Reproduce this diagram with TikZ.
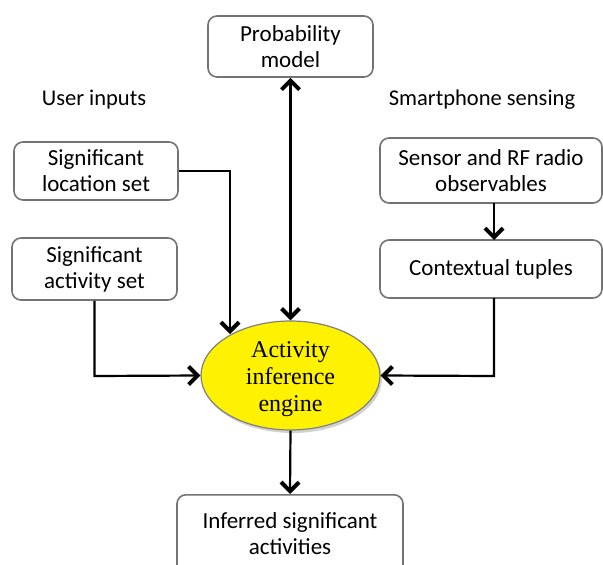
\documentclass[tikz,border=0pt]{standalone}
\usepackage{fontspec}
\setmainfont{Carlito}
\newfontfamily\timesfont{Liberation Serif}
\usetikzlibrary{arrows.meta,shapes.geometric,shadows}
\begin{document}
\begin{tikzpicture}[x=1pt,y=-1pt,
  box/.style={draw=black!55,line width=1.6pt,rounded corners=9pt,fill=white,inner sep=0pt,
    font=\fontsize{23}{26}\selectfont,align=center},
  lbl/.style={font=\fontsize{22.5}{26}\selectfont,inner sep=0pt},
  tip/.tip={Straight Barb[length=9pt,width=18pt,line width=4pt]},
  conn/.style={line width=2.2pt,-tip},
  dconn/.style={line width=2.2pt,tip-tip}]
\clip (0,0) rectangle (603,565);
\fill[white] (0,0) rectangle (603,565);
% boxes
\node[box,minimum width=165pt,minimum height=61pt] (prob) at (290.5,46.5) {Probability\\model};
\node[box,minimum width=164pt,minimum height=58pt] (loc) at (96,171) {Significant\\location set};
\node[box,minimum width=165pt,minimum height=62pt] (act) at (94.5,269) {Significant\\activity set};
\node[box,minimum width=222pt,minimum height=65pt] (sens) at (491,170.5) {Sensor and RF radio\\observables};
\node[box,minimum width=222pt,minimum height=58pt] (ctx) at (491,269) {Contextual tuples};
\node[box,minimum width=226pt,minimum height=84pt,anchor=north] (inf) at (290,494) {};
\node[font=\fontsize{23}{26}\selectfont,align=center,inner sep=0pt] (inftxt) at (290,534) {Inferred significant\\activities};
% labels
\node[lbl] (ui) at (94,100) {User inputs};
\node[lbl] (ss) at (482,100) {Smartphone sensing};
% ellipse
\node[ellipse,draw=black!50,line width=1.2pt,fill=yellow,minimum width=179pt,minimum height=109pt,inner sep=0pt,
  drop shadow={shadow xshift=2pt,shadow yshift=-3pt,opacity=0.35}] (eng) at (290.5,375.5) {};
\node[font=\timesfont\fontsize{24}{27}\selectfont,align=center,inner sep=0pt] (engtxt) at (290.5,379) {Activity\\inference\\engine};
% connectors
\draw[dconn] (prob.south) -- (eng.north);
\coordinate (locturn) at (230,171);
\coordinate (locend) at (230,334);
\draw[conn] (loc.east) -- (locturn) -- (locend);
\coordinate (actturn) at (94.5,376);
\draw[conn] (act.south) -- (actturn) -- (eng.west);
\coordinate (ctxdown) at (494,298);
\coordinate (ctxturn) at (494,376);
\draw[conn] (ctxdown) -- (ctxturn) -- (eng.east);
\coordinate (sensdown) at (494,203);
\coordinate (ctxup) at (494,240);
\draw[conn] (sensdown) -- (ctxup);
\draw[conn] (eng.south) -- (inf.north);
\end{tikzpicture}
\end{document}
